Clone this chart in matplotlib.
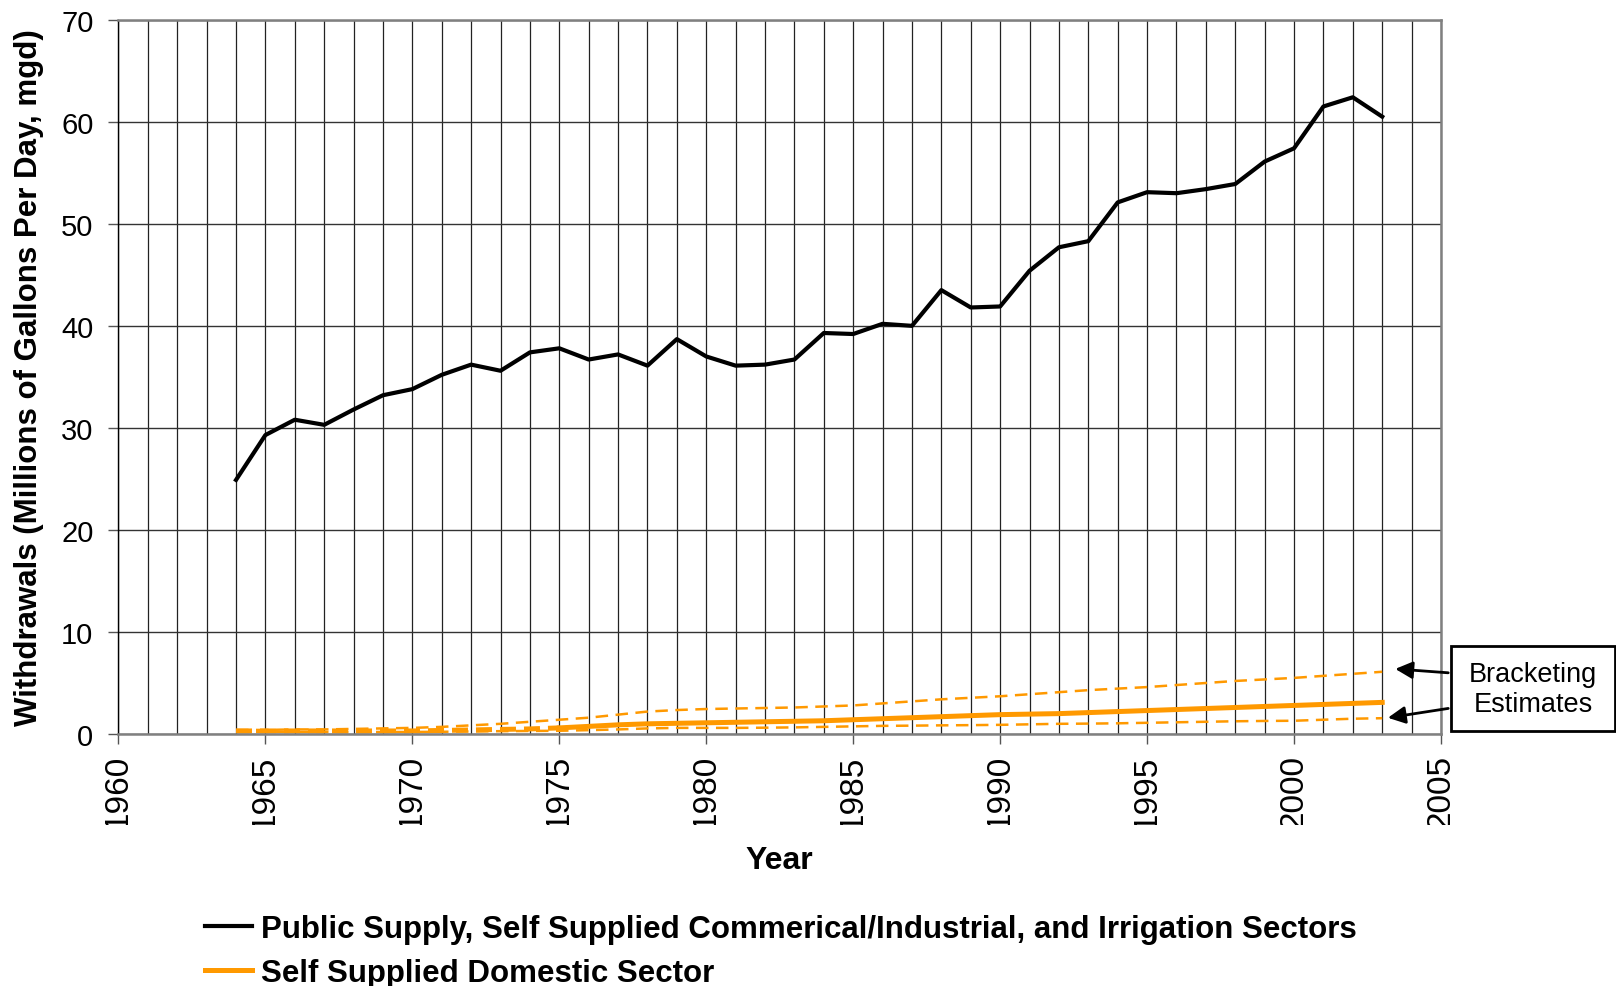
import numpy as np
import matplotlib
matplotlib.use("Agg")
import matplotlib.pyplot as plt
from matplotlib.ticker import MultipleLocator
from matplotlib.patches import Rectangle
from matplotlib.transforms import Bbox, TransformedBbox

plt.rcParams['font.family'] = ['Liberation Sans', 'DejaVu Sans']

# data
years = list(range(1964, 2004))
public_supply = [24.9, 29.3, 30.8, 30.3, 31.8, 33.2, 33.8, 35.2, 36.2, 35.6,
                 37.4, 37.8, 36.7, 37.2, 36.1, 38.7, 37.0, 36.1, 36.2, 36.7,
                 39.3, 39.2, 40.2, 40.0, 43.5, 41.8, 41.9, 45.4, 47.7, 48.3,
                 52.1, 53.1, 53.0, 53.4, 53.9, 56.1, 57.4, 61.5, 62.4, 60.5]
domestic = [0.3, 0.3, 0.3, 0.3, 0.3, 0.3, 0.3, 0.35, 0.4, 0.45,
            0.5, 0.6, 0.75, 0.9, 1.0, 1.05, 1.1, 1.15, 1.2, 1.25,
            1.3, 1.4, 1.5, 1.6, 1.7, 1.8, 1.9, 1.95, 2.0, 2.1,
            2.2, 2.3, 2.4, 2.5, 2.6, 2.7, 2.8, 2.9, 3.0, 3.1]
domestic_high = [0.4, 0.4, 0.45, 0.45, 0.5, 0.55, 0.6, 0.7, 0.85, 1.0,
                 1.2, 1.4, 1.6, 1.9, 2.2, 2.35, 2.45, 2.5, 2.55, 2.6,
                 2.7, 2.8, 3.0, 3.2, 3.4, 3.55, 3.7, 3.9, 4.1, 4.3,
                 4.45, 4.6, 4.8, 5.0, 5.2, 5.35, 5.5, 5.7, 5.9, 6.1]
domestic_low = [0.2, 0.2, 0.2, 0.2, 0.2, 0.2, 0.2, 0.22, 0.25, 0.28,
                0.3, 0.32, 0.38, 0.45, 0.55, 0.6, 0.6, 0.6, 0.62, 0.65,
                0.7, 0.75, 0.8, 0.82, 0.85, 0.87, 0.9, 0.95, 1.0, 1.02,
                1.05, 1.1, 1.15, 1.2, 1.25, 1.28, 1.3, 1.4, 1.5, 1.55]
n_early = 12  # early domestic years drawn dashed (1964-1975)

orange = '#FF9900'

fig = plt.figure(figsize=(16.16, 9.87), dpi=100)
ax = fig.add_axes([0.0733, 0.2553, 0.8184, 0.7237])

ax.plot(years, domestic_high, color=orange, lw=1.8, dashes=(5, 3))
ax.plot(years, domestic_low, color=orange, lw=1.8, dashes=(5, 3))
ax.plot(years, public_supply, color='black', lw=3,
        label='Public Supply, Self Supplied Commerical/Industrial, and Irrigation Sectors')
ax.plot(years[:n_early], domestic[:n_early], color=orange, lw=3.6, dashes=(3.2, 1.6))
ax.plot(years[n_early - 1:], domestic[n_early - 1:], color=orange, lw=3.6,
        label='Self Supplied Domestic Sector')

ax.set_xlim(1960, 2005)
ax.set_ylim(0, 70)
ax.set_xticks(range(1960, 2006, 5))
ax.xaxis.set_minor_locator(MultipleLocator(1))
ax.set_yticks(range(0, 71, 10))
ax.grid(which='both', axis='x', color='#222222', lw=0.9)
ax.grid(which='major', axis='y', color='#333333', lw=1.0)
ax.set_axisbelow(True)
ax.tick_params(axis='x', which='major', direction='out', length=7, width=1,
               labelsize=24, labelrotation=90, color='#555555', pad=7.5)
ax.tick_params(axis='x', which='minor', length=0)
ax.tick_params(axis='y', direction='out', length=7, width=1, labelsize=21,
               color='#555555', pad=11)
for s in ['top', 'right', 'bottom']:
    ax.spines[s].set_color('#808080')
    ax.spines[s].set_linewidth(1.8)
ax.spines['left'].set_color('black')
ax.spines['left'].set_linewidth(1.0)

ax.set_xlabel('Year', fontsize=23, fontweight='bold')
ax.xaxis.set_label_coords(0.5, -0.155)
ax.set_ylabel('Withdrawals (Millions of Gallons Per Day, mgd)', fontsize=22.5,
              fontweight='bold')
ax.yaxis.set_label_coords(-0.0563, 0.5)

fig.legend(loc='upper left', bbox_to_anchor=(0.1095, 0.1013), frameon=False,
           prop={'weight': 'bold', 'size': 22.5},
           handlelength=1.5, handletextpad=0.3, labelspacing=0.45)

# annotation box
fig.patches.append(Rectangle((1451 / 1616, 1 - 732 / 987), 164 / 1616, 85 / 987,
                             transform=fig.transFigure, fill=True,
                             facecolor='white', edgecolor='black', lw=2))
fig.text(1533 / 1616, 1 - 690 / 987, 'Bracketing\nEstimates', ha='center',
         va='center', fontsize=19.5, linespacing=1.2)
ax.annotate('', xy=(2003.35, domestic_high[-1] + 0.3),
            xytext=(1451 / 1616, 1 - 674 / 987), textcoords='figure fraction',
            arrowprops=dict(arrowstyle='-|>', color='black', lw=2,
                            mutation_scale=26))
ax.annotate('', xy=(2003.1, domestic_low[-1]),
            xytext=(1451 / 1616, 1 - 709 / 987), textcoords='figure fraction',
            arrowprops=dict(arrowstyle='-|>', color='black', lw=2,
                            mutation_scale=26))

# the original cuts the year labels off at the bottom
fig.canvas.draw()
clip = TransformedBbox(Bbox.from_extents(0, 1 - 826 / 987, 1, 1), fig.transFigure)
for lab in ax.get_xticklabels():
    lab.set_clip_on(True)
    lab.set_clip_box(clip)

fig.savefig('out.png', dpi=100)
